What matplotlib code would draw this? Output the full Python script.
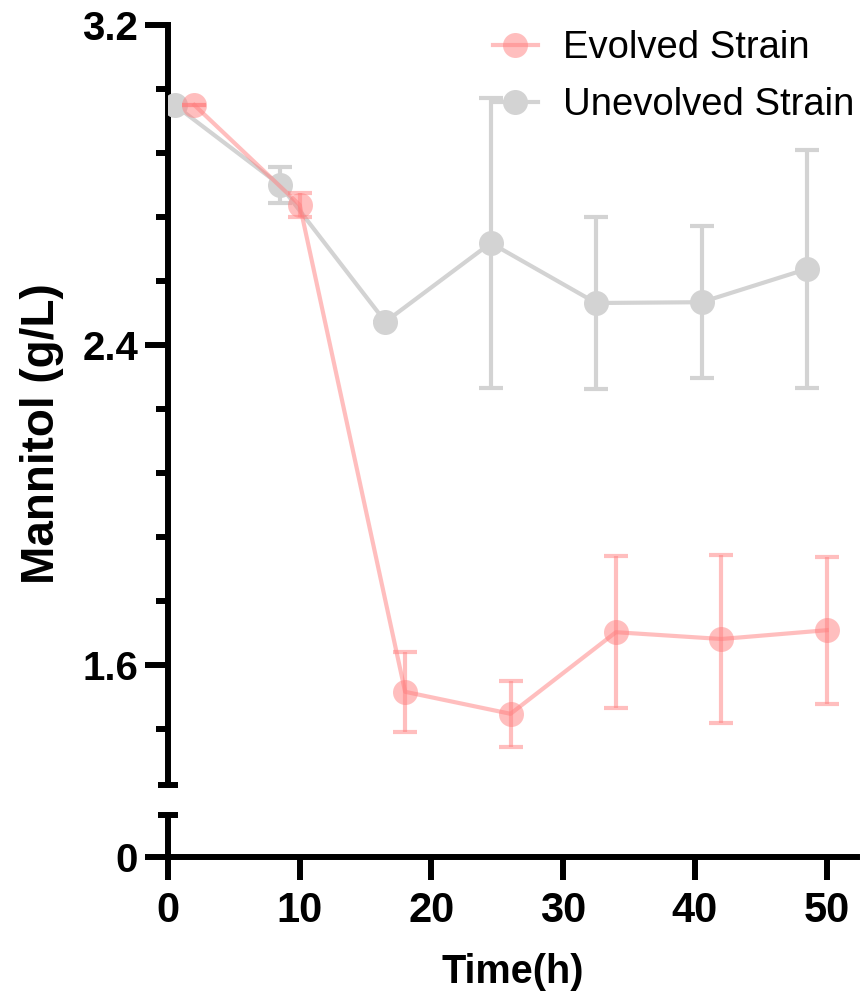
import numpy as np
import matplotlib
matplotlib.use("Agg")
import matplotlib.pyplot as plt
from matplotlib.ticker import FixedLocator

plt.rcParams['font.family'] = ['Liberation Sans', 'DejaVu Sans']

# data
evo_t = [2, 10, 18, 26, 34, 42, 50]
evo_y = [3.0, 2.75, 1.533, 1.478, 1.682, 1.665, 1.687]
evo_err = [0.0, 0.03, 0.10, 0.083, 0.19, 0.21, 0.184]

unevo_t = [0.5, 8.5, 16.5, 24.5, 32.5, 40.5, 48.5]
unevo_y = [3.0, 2.80, 2.458, 2.655, 2.505, 2.507, 2.59]
unevo_err = [0.0, 0.044, 0.0, 0.362, 0.214, 0.19, 0.297]

labels = ["Evolved Strain", "Unevolved Strain"]
red = '#FF7F7F'
grey = '#D3D3D3'

W, H = 863, 991
fig = plt.figure(figsize=(W / 100, H / 100), dpi=100)

left = 168 / W
width = (857 - 168) / W
ax = fig.add_axes([left, 1 - 785 / H, width, (785 - 25) / H])
axb = fig.add_axes([left, 1 - 857 / H, width, (857 - 815) / H], sharex=ax)

lw_axis = 4.3
for a in (ax, axb):
    for s in ('top', 'right'):
        a.spines[s].set_visible(False)
    for s in ('left', 'bottom'):
        a.spines[s].set_linewidth(lw_axis)
    a.set_facecolor('none')
ax.spines['bottom'].set_visible(False)

# grey series
ax.errorbar(unevo_t, unevo_y, yerr=unevo_err, fmt='none', ecolor=grey,
            elinewidth=3, capsize=8.5, capthick=3, zorder=2)
l2, = ax.plot(unevo_t, unevo_y, '-o', color=grey, lw=3, ms=18, mew=0, zorder=3)
# red series
ax.errorbar(evo_t, evo_y, yerr=evo_err, fmt='none', ecolor=red, alpha=0.5,
            elinewidth=3, capsize=8.5, capthick=3, zorder=4)
l1, = ax.plot(evo_t, evo_y, '-', color=red, lw=3, alpha=0.5, zorder=5)
ax.plot(evo_t, evo_y, 'o', color=red, ms=18, mew=0, alpha=0.5, zorder=6)
h1, = ax.plot([], [], '-o', color=red, lw=3, ms=18, mew=0, alpha=0.5)

ax.set_xlim(0, 52.3)
ax.set_ylim(1.3, 3.2)
axb.set_ylim(0, 0.105)

ax.yaxis.set_major_locator(FixedLocator([1.6, 2.4, 3.2]))
ax.yaxis.set_minor_locator(FixedLocator([1.44, 1.76, 1.92, 2.08, 2.24, 2.56, 2.72, 2.88, 3.04]))
ax.set_yticklabels(['1.6', '2.4', '3.2'])
ax.tick_params(axis='x', bottom=False, labelbottom=False)
ax.tick_params(axis='y', which='major', length=16.5, width=lw_axis, pad=5,
               labelsize=29)
ax.tick_params(axis='y', which='minor', length=8.5, width=lw_axis)
for t in ax.get_yticklabels():
    t.set_fontweight('bold')

axb.set_yticks([0])
axb.set_yticklabels(['0'])
axb.set_xticks([0, 10, 20, 30, 40, 50])
axb.tick_params(axis='both', length=16.5, width=lw_axis, labelsize=30)
axb.tick_params(axis='y', pad=5, labelsize=29)
axb.tick_params(axis='x', pad=8)
for t in axb.get_xticklabels() + axb.get_yticklabels():
    t.set_fontweight('bold')

# caps at the axis break
cw = 10 / (857 - 168)
ax.plot([-cw, cw], [0, 0], color='black', lw=lw_axis, transform=ax.transAxes,
        clip_on=False, solid_capstyle='butt')
axb.plot([-cw, cw], [1, 1], color='black', lw=lw_axis, transform=axb.transAxes,
         clip_on=False, solid_capstyle='butt')

fig.text(42 / W, 1 - 434 / H, 'Mannitol (g/L)', rotation=90, ha='center',
         va='center', fontsize=33, fontweight='bold')
fig.text(513 / W, 1 - 972 / H, 'Time(h)', ha='center', va='center',
         fontsize=28.5, fontweight='bold')

leg = fig.legend([h1, l2], labels, loc='upper left',
                 bbox_to_anchor=(493 / W, 1 - 30 / H), frameon=False,
                 fontsize=27.5, handlelength=1.17, handletextpad=0.65,
                 labelspacing=0.56, borderpad=0, borderaxespad=0)
leg.set_zorder(10)

fig.savefig('out.png', dpi=100)
